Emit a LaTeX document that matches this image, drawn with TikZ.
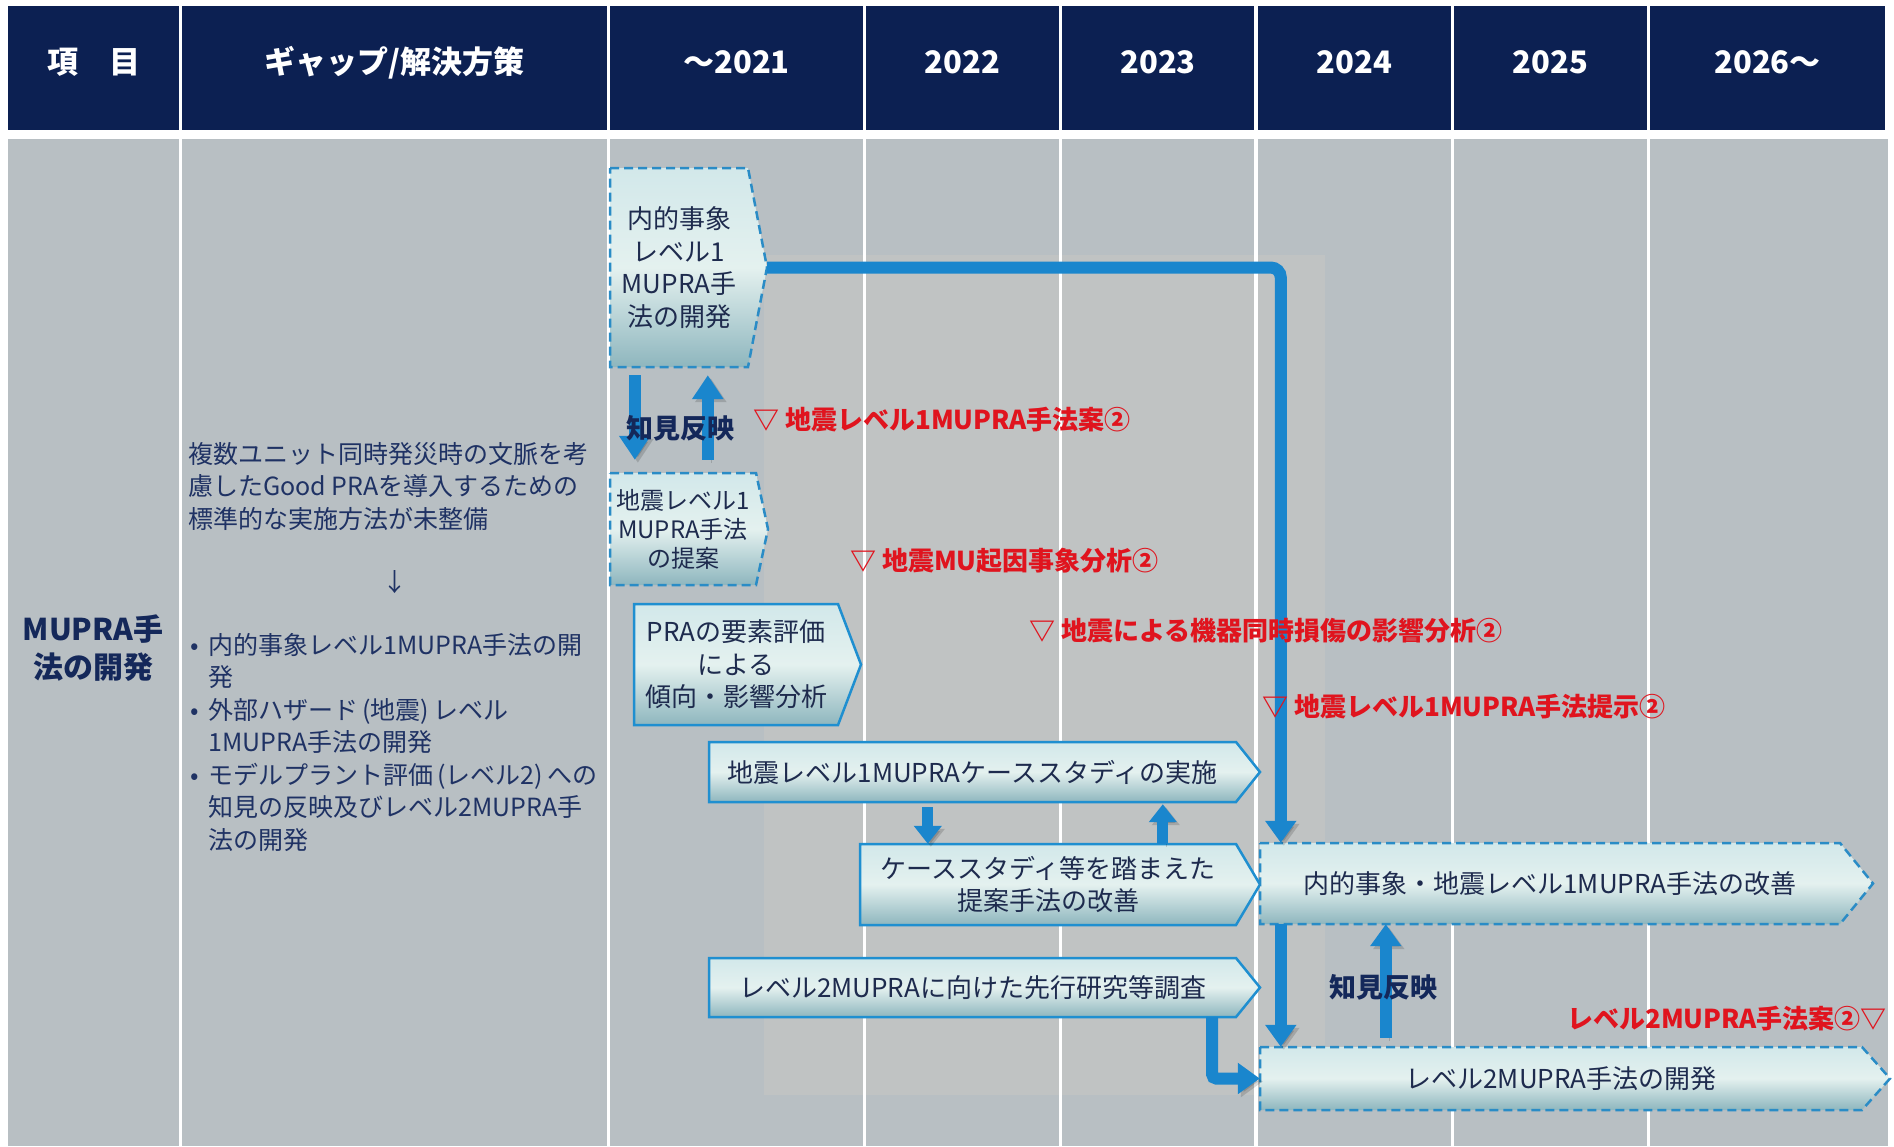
\documentclass[tikz,border=0pt]{standalone}
\usepackage{fontspec}
\setmainfont{Noto Sans CJK JP}
\usetikzlibrary{arrows.meta}
\definecolor{navy}{HTML}{0C2052}
\definecolor{bodygray}{HTML}{B8BFC3}
\definecolor{warm}{HTML}{D4CDC4}
\definecolor{txtnavy}{HTML}{1E2B4E}
\definecolor{gapnavy}{HTML}{1F3264}
\definecolor{lblnavy}{HTML}{14285A}
\definecolor{msred}{HTML}{E0141E}
\definecolor{arrblue}{HTML}{1A86CD}
\definecolor{boxline}{HTML}{1F8FD0}
\definecolor{dashline}{HTML}{2A8CC6}
\definecolor{boxtop}{HTML}{D2E8EA}
\definecolor{boxmid}{HTML}{E4F1EF}
\definecolor{boxbot}{HTML}{8EB6BE}
\tikzset{
  hdrcell/.style={fill=navy, minimum height=124pt, inner sep=0pt, text=white,
    text height=22pt, text depth=12pt,
    font=\fontsize{31}{36}\selectfont\bfseries},
  solidbox/.style={draw=boxline, line width=2.5pt, top color=boxtop, bottom color=boxbot,
    middle color=boxmid, line join=miter},
  dashbox/.style={solidbox, draw=dashline, dash pattern=on 9pt off 5pt},
  boxtext/.style={text=txtnavy, font=\fontsize{26}{32.5}\selectfont, align=center, inner sep=0pt},
  smalltext/.style={font=\fontsize{24}{29}\selectfont},
  gaptext/.style={text=gapnavy, font=\fontsize{25}{32.5}\selectfont, align=left, inner sep=0pt},
  itemtext/.style={text=lblnavy, font=\fontsize{30}{38}\selectfont\bfseries, align=center, inner sep=0pt},
  mile/.style={text=msred, font=\fontsize{26}{30}\selectfont\bfseries, inner sep=0pt},
  knowl/.style={text=lblnavy, font=\fontsize{27}{32}\selectfont\bfseries, inner sep=0pt},
  shadowed/.style={preaction={draw=black, opacity=0.15, transform canvas={shift={(3pt,-3pt)}}}},
  bigarr/.style={shadowed, draw=arrblue, line width=12pt, -{Triangle[length=22pt,width=30pt]}},
  midarr/.style={shadowed, draw=arrblue, line width=12pt, -{Triangle[length=24pt,width=30pt]}},
  smallarr/.style={shadowed, draw=arrblue, line width=11pt, -{Triangle[length=18pt,width=27pt]}}
}
% #1 extra text style, #2 name, #3 box style, #4 x1, #5 y1, #6 x2, #7 y2, #8 tip x, #9 text
\newcommand\chevbox[9][]{%
  \path[#3] (#4,#5) -- (#6,#5) -- (#8,{(#5+#7)/2}) -- (#6,#7) -- (#4,#7) -- cycle;
  \node[boxtext, minimum width={(#6-#4)*1pt}, minimum height={(#7-#5)*1pt}, #1]
    (#2) at ({(#4+#6)/2},{(#5+#7)/2}) {#9};
  \coordinate (#2-tip) at (#8,{(#5+#7)/2});
}
\begin{document}
\begin{tikzpicture}[x=1pt,y=-1pt]
\useasboundingbox (0,0) rectangle (1894,1146);
\fill[white] (0,0) rectangle (1894,1146);
% header
\node[hdrcell, minimum width=171pt] (h1) at (93.5,68) {項　目};
\node[hdrcell, minimum width=425pt] (h2) at (394.5,68) {ギャップ/解決方策};
\node[hdrcell, minimum width=253pt] (h3) at (736.5,68) {～2021};
\node[hdrcell, minimum width=193pt] (h4) at (962.5,68) {2022};
\node[hdrcell, minimum width=192pt] (h5) at (1158,68) {2023};
\node[hdrcell, minimum width=193pt] (h6) at (1354.5,68) {2024};
\node[hdrcell, minimum width=193pt] (h7) at (1550.5,68) {2025};
\node[hdrcell, minimum width=235pt] (h8) at (1767.5,68) {2026～};
% body
\fill[bodygray] (8,139) rectangle (1888,1146);
\fill[warm, opacity=0.3] (764,255) rectangle (1325,1095);
\foreach \xa/\xb in {179/182,607/610,863/866,1059/1062,1254/1258,1451/1454,1647/1650}
  \fill[white] (\xa,139) rectangle (\xb,1146);
% left columns
\node[itemtext] (item) at (93,648) {MUPRA手\\法の開発};
\node[gaptext, anchor=north west] (gap) at (188,442)
  {複数ユニット同時発災時の文脈を考\\慮したGood PRAを導入するための\\標準的な実施方法が未整備};
\node[gaptext] (gaparrow) at (395,582) {↓};
\node[gaptext, anchor=north west] (bullets) at (190,633)
  {\makebox[18pt][l]{•}内的事象レベル1MUPRA手法の開\\
   \hspace*{18pt}発\\
   \makebox[18pt][l]{•}外部ハザード\,(地震)\,レベル\\
   \hspace*{18pt}1MUPRA手法の開発\\
   \makebox[18pt][l]{•}モデルプラント評価\,(レベル2)\,への\\
   \hspace*{18pt}知見の反映及びレベル2MUPRA手\\
   \hspace*{18pt}法の開発};
% boxes
\chevbox{A}{dashbox}{610}{168}{748}{367}{767}{内的事象\\レベル1\\MUPRA手\\法の開発}
\chevbox[smalltext]{B}{dashbox}{610}{473}{756}{585}{768}{地震レベル1\\MUPRA手法\\の提案}
\chevbox{C}{solidbox}{634}{604}{838}{725}{861}{PRAの要素評価\\による\\傾向・影響分析}
\chevbox{D}{solidbox}{709}{742}{1236}{802}{1260}{地震レベル1MUPRAケーススタディの実施}
\chevbox{E}{solidbox}{860}{844}{1236}{925}{1260}{ケーススタディ等を踏まえた\\提案手法の改善}
\chevbox{F}{solidbox}{709}{958}{1236}{1017}{1260}{レベル2MUPRAに向けた先行研究等調査}
\chevbox{G}{dashbox}{1260}{843}{1840}{924}{1873}{内的事象・地震レベル1MUPRA手法の改善}
\chevbox{H}{dashbox}{1260}{1047}{1862}{1110}{1890}{レベル2MUPRA手法の開発}
% connectors
\draw[bigarr, rounded corners=10pt] (A-tip) -| ([xshift=21pt]G.north west);
\draw[bigarr] ([xshift=21pt]G.south west) -- ([xshift=21pt]H.north west);
\draw[bigarr] ([xshift=126pt,yshift=9pt]H.north west) -- ([xshift=126pt]G.south west);
\draw[bigarr, rounded corners=4pt] ([xshift=-24pt]F.south east) |- (H.west);
\draw[midarr] ([xshift=25pt,yshift=-8pt]A.south west) -- ([xshift=25pt,yshift=13pt]B.north west);
\draw[midarr] ([xshift=98pt,yshift=13pt]B.north west) -- ([xshift=98pt,yshift=-8pt]A.south west);
\draw[smallarr] ([xshift=219pt,yshift=-5pt]D.south west) -- ([xshift=68pt]E.north west);
\draw[smallarr] ([xshift=303pt]E.north west) -- ([xshift=454pt,yshift=-2pt]D.south west);
% labels
\node[knowl] (k1) at (680,428) {知見反映};
\node[knowl] (k2) at (1383,987) {知見反映};
\node[mile, anchor=west] (m1) at (753,420) {▽ 地震レベル1MUPRA手法案②};
\node[mile, anchor=west] (m2) at (850,561) {▽ 地震MU起因事象分析②};
\node[mile, anchor=west] (m3) at (1029,631) {▽ 地震による機器同時損傷の影響分析②};
\node[mile, anchor=west] (m4) at (1262,707) {▽ 地震レベル1MUPRA手法提示②};
\node[mile, anchor=east] (m5) at (1887,1019) {レベル2MUPRA手法案②▽};
\end{tikzpicture}
\end{document}
